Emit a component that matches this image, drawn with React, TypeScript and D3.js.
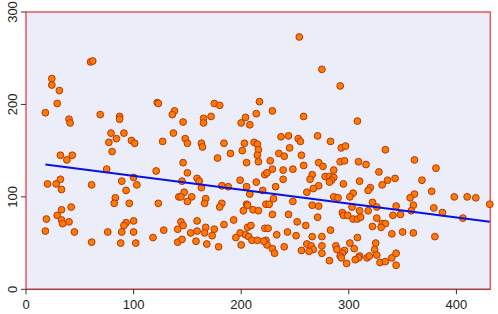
import React from 'react';
import * as d3 from 'd3';

const xTicks = [0, 100, 200, 300, 400];
const yTicks = [0, 100, 200, 300];
const xDomain: [number, number] = [0, 431.5];
const yDomain: [number, number] = [0, 300];

const points: [number, number][] = [
  [60,246],[62,247],[24,228],[24,221],[31,215],[254,273],[275,238],[292,220],
  [29,201],[18,191],[40,184],[41,180],[69,189],[87,187],[87,184],[79,169],[91,169],[84,163],
  [77,159],[98,161],[101,158],[80,149],[32,145],[38,140],[43,145],[75,130],[20,114],[28,114],
  [32,119],[33,108],[61,113],[89,117],[100,121],[103,113],[93,107],
  [19,76],[18,63],[29,80],[33,86],[42,89],[33,75],[34,71],[40,73],[45,62],[61,51],[83,99],
  [82,93],[96,93],[76,62],[93,72],[91,69],[100,74],[89,62],[100,62],[88,50],[102,50],
  [122,202],[123,201],[138,193],[136,189],[175,201],[180,199],[146,181],[165,185],[165,180],
  [172,187],[137,169],[127,160],[148,163],[150,158],[163,158],[164,154],[184,158],[190,147],
  [178,142],[200,180],[204,186],[208,178],[214,190],[203,158],[212,159],[215,157],[201,150],
  [216,151],[215,145],[205,137],[216,138],[146,137],[121,128],[150,126],[145,117],[159,120],
  [161,117],[163,110],[147,105],[182,112],[188,111],[199,118],[205,111],[214,116],[208,103],
  [217,203],
  [142,100],[144,100],[154,100],[150,95],[167,98],[166,93],[123,93],[182,93],[180,89],
  [205,92],[206,91],[202,85],[211,86],[216,85],[144,73],[146,69],[159,74],[184,70],[193,75],
  [128,64],[141,65],[153,61],[159,63],[167,67],[166,61],[175,65],[173,58],[206,67],[209,69],
  [199,61],[204,59],[207,57],[210,53],[195,56],[215,53],[200,48],[118,56],[141,51],[145,54],
  [158,52],[168,49],[179,46],
  [229,193],[258,187],[308,182],[237,165],[244,166],[253,163],[255,160],[271,166],[283,160],
  [293,153],[297,155],[245,153],[235,147],[240,144],[256,145],[227,139],[292,138],[296,139],
  [309,138],[316,135],[272,137],[276,133],[258,134],[248,130],[239,129],[229,130],[222,124],
  [224,126],[239,119],[266,124],[264,119],[286,129],[278,122],[282,122],[286,121],[284,118],
  [282,116],[295,114],[310,117],[328,127],[232,111],[272,112],[267,109],[261,105],[320,110],
  [318,107],[304,104],[220,107],
  [230,98],[286,100],[290,99],[301,100],[322,94],[223,92],[226,92],[248,95],[266,91],[272,90],
  [303,89],[326,89],[229,81],[244,81],[271,78],[294,83],[295,80],[299,80],[304,76],[308,76],
  [311,78],[310,85],[318,85],[326,77],[252,73],[260,69],[222,66],[225,66],[243,62],[233,59],
  [251,58],[266,57],[275,57],[283,64],[308,56],[322,68],[223,53],[224,48],[221,52],[229,44],
  [231,39],[240,46],[256,42],[261,49],[265,47],[267,43],[263,41],[275,47],[275,39],[288,47],
  [289,43],[301,50],[305,44],[325,50],[324,43],[296,42],[294,39],[292,36],[293,34],[310,36],
  [309,34],[306,32],[317,34],[319,36],[326,37],[282,31],[298,28],
  [334,151],[361,140],[381,131],[336,118],[343,120],[331,113],[368,118],[377,106],[361,103],
  [357,99],[360,91],[398,100],[410,100],[418,99],[431,92],[344,90],[379,88],[387,83],[358,85],
  [341,80],[348,81],[406,77],[331,71],[334,71],[330,67],[340,60],[350,62],[360,61],[380,57],
  [329,29],[334,30],[340,34],[344,39],[344,26],
];

const fitLine: [number, number][] = [[18, 135], [431, 73]];

export default function App() {
  const W = 498;
  const H = 314;
  const x = d3.scaleLinear().domain(xDomain).range([26, 490.3]);
  const y = d3.scaleLinear().domain(yDomain).range([289.3, 12]);
  const line = d3.line<[number, number]>().x(d => x(d[0])).y(d => y(d[1]));
  const x0 = x(xDomain[0]);
  const x1 = x(xDomain[1]);
  const y0 = y(yDomain[0]);
  const y1 = y(yDomain[1]);
  return (
    <svg width={W} height={H} style={{ position: 'absolute', left: 0, top: 0 }}
      fontFamily="'Liberation Sans', Arial, sans-serif">
      <rect x={0} y={0} width={W} height={H} fill="#ffffff" />
      <rect x={x0} y={y1} width={x1 - x0} height={y0 - y1} fill="#EBEEF8" />
      <rect x={x0} y={y1} width={x1 - x0} height={y0 - y1} fill="none" stroke="#EE5560" strokeWidth={1.5} />
      <line x1={x0} x2={x1} y1={y0} y2={y0} stroke="#A04848" strokeWidth={1.2} />
      {yTicks.map(t => (
        <g key={'y' + t}>
          <line x1={x0 - 5} x2={x0} y1={y(t)} y2={y(t)} stroke="#333" strokeWidth={1} />
          <text transform={`translate(${x0 - 9},${y(t)}) rotate(-90)`} textAnchor="middle"
            fontSize={13} fill="#222">{t}</text>
        </g>
      ))}
      {xTicks.map(t => (
        <g key={'x' + t}>
          <line x1={x(t)} x2={x(t)} y1={y0} y2={y0 + 5} stroke="#333" strokeWidth={1} />
          <text x={x(t)} y={y0 + 20} textAnchor="middle" fontSize={13} fill="#222">{t}</text>
        </g>
      ))}
      {points.map((p, i) => (
        <circle key={i} cx={x(p[0])} cy={y(p[1])} r={3.4} fill="#FF7A00" stroke="#B8370A" strokeWidth={1} />
      ))}
      <path d={line(fitLine) || ''} fill="none" stroke="#0A10E8" strokeWidth={2} />
    </svg>
  );
}
